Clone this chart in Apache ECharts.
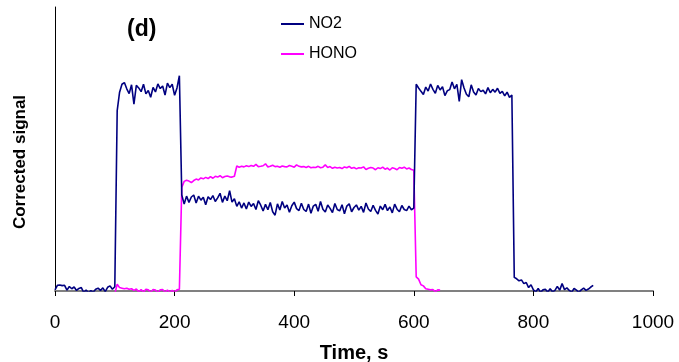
<!DOCTYPE html>
<html>
<head>
<meta charset="utf-8">
<script src="https://cdn.jsdelivr.net/npm/echarts@6/dist/echarts.min.js"></script>
<style>
html,body{margin:0;padding:0;background:#fff;}
#chart{width:679px;height:362px;}
</style>
</head>
<body>
<div id="chart"></div>
<script>
// Time stamps, s
var times = [
  0,4,8,12,16,20,24,28,32,36,
  40,44,48,52,56,60,64,68,72,76,
  80,84,88,92,96,100,104,108,112,116,
  120,124,128,132,136,140,144,148,152,156,
  160,164,168,172,176,180,184,188,192,196,
  200,204,208,212,216,220,224,228,232,236,
  240,244,248,252,256,260,264,268,272,276,
  280,284,288,292,296,300,304,308,312,316,
  320,324,328,332,336,340,344,348,352,356,
  360,364,368,372,376,380,384,388,392,396,
  400,404,408,412,416,420,424,428,432,436,
  440,444,448,452,456,460,464,468,472,476,
  480,484,488,492,496,500,504,508,512,516,
  520,524,528,532,536,540,544,548,552,556,
  560,564,568,572,576,580,584,588,592,596,
  600,604,608,612,616,620,624,628,632,636,
  640,644,648,652,656,660,664,668,672,676,
  680,684,688,692,696,700,704,708,712,716,
  720,724,728,732,736,740,744,748,752,756,
  760,764,768,772,776,780,784,788,792,796,
  800,804,808,812,816,820,824,828,832,836,
  840,844,848,852,856,860,864,868,872,876,
  880,884,888,892,896,900
];
// NO2 corrected signal (arbitrary units, 0-100 scale)
var no2 = [
  0.4,2.0,2.1,1.9,2.0,0.3,1.6,0.8,1.4,0.2,
  0.9,1.2,-0.5,0.3,-0.6,0.1,-0.4,0.6,1.0,0.2,
  1.1,-0.2,1.3,1.8,0.6,1.5,63.5,70,72.8,73.4,
  71.2,69.5,72.6,65.8,72.4,71.5,70.2,72.8,69.4,70.6,
  68.2,71.7,70.1,72.9,71.3,72.2,69.0,73.2,71.6,72.8,
  68.9,71.5,75.8,33.8,30.6,33.4,31.2,33.1,33.8,31.0,
  33.4,32.0,33.0,30.4,33.2,32.2,33.6,31.5,32.8,34.4,
  31.2,33.4,31.8,35.3,31.3,32.5,29.8,31.4,29.2,31.0,
  28.9,31.3,29.8,30.8,28.7,31.8,30.2,28.2,30.5,28.6,
  31.2,27.9,26.7,30.7,28.5,31.5,29.2,30.3,27.7,30.0,
  31.3,29.0,28.3,30.9,28.7,28.0,30.6,27.4,29.9,30.5,
  28.1,31.5,28.8,27.8,30.3,29.1,27.6,30.8,28.7,28.2,
  30.4,27.2,29.9,30.7,27.9,29.4,30.3,28.5,29.8,27.7,
  31.0,28.9,28.0,30.2,28.4,27.1,29.9,28.6,30.5,28.3,
  29.6,27.5,30.6,28.8,27.9,30.1,28.7,28.3,29.9,28.6,
  29.2,72.8,71.5,70.3,69.2,71.8,70.4,72.9,71.0,69.6,
  72.4,70.8,71.9,68.8,70.5,70.9,73.6,71.2,72.8,66.8,
  74.4,71.5,69.3,68.4,72.6,70.1,69.0,71.3,70.2,70.7,
  69.4,71.6,69.8,71.0,70.0,71.4,69.6,70.3,68.7,70.0,
  68.2,69.0,4.8,4.3,3.6,3.9,2.6,3.0,1.2,2.2,
  0.4,-0.3,0.9,-0.5,0.4,0.6,-0.4,0.8,-0.3,0.2,
  1.6,0.3,2.6,0.5,1.1,0.2,-0.4,0.9,0.3,-0.5,
  0.4,1.0,0.2,0.7,1.4,2.0
];
// HONO corrected signal (same scale), recorded up to 644 s
var hono = [
  -1,-1,-1,-1,-1,-1,-1,-1,-1,-1,
  -1,-1,-1,-1,-1,-1,-1,-1,-1,-1,
  -1,-1,-1,-1,-1,-1,2.4,1.2,1.0,0.8,
  1.0,0.6,0.8,0.2,0.7,-0.3,0.5,-0.4,0.6,0.4,
  -0.5,0.5,0.3,-0.6,0.4,0.5,-0.5,0.3,-0.4,0.2,
  -0.5,0.4,0.6,36.5,38.6,39.0,38.7,38.2,38.9,39.4,
  39.1,39.8,39.5,40.0,39.6,40.3,39.7,40.4,40.1,40.6,
  39.9,40.3,40.5,40.2,40.1,40.4,44.0,43.6,43.9,43.7,
  44.1,43.8,44.2,43.9,44.6,43.8,43.9,44.1,44.8,43.7,
  43.9,44.3,43.8,43.9,43.6,44.0,43.8,43.7,44.2,43.9,
  43.6,44.4,43.9,43.7,43.8,43.5,43.9,43.4,43.6,43.5,
  43.9,43.4,43.6,44.4,43.5,43.8,43.2,43.6,43.3,43.5,
  43.1,43.7,43.4,43.9,43.2,43.5,43.0,43.4,43.3,43.7,
  42.8,43.2,43.5,43.3,42.7,43.4,43.1,43.6,42.9,43.3,
  42.6,43.4,43.1,42.7,43.5,43.2,43.6,43.0,43.3,42.8,
  42.5,5.0,4.2,2.2,1.8,0.8,0.6,0.4,0.5,-0.3,
  0.4,0.3
];
var xTicks = [0, 200, 400, 600, 800, 1000];
var seriesNames = ['NO2', 'HONO'];

function pairs(vals) {
  return vals.map(function (v, i) { return [times[i], v]; });
}

var chart = echarts.init(document.getElementById('chart'), null, {renderer: 'canvas'});
var FONT = '"Liberation Sans", Arial, sans-serif';
chart.setOption({
  animation: false,
  backgroundColor: '#ffffff',
  title: {
    text: '(d)',
    left: 122, top: 13,
    textStyle: {fontFamily: FONT, fontWeight: 'bold', fontSize: 23, color: '#000'}
  },
  legend: {
    data: seriesNames,
    orient: 'vertical',
    left: 276, top: 11,
    itemWidth: 23, itemHeight: 2, itemGap: 14,
    icon: 'rect',
    textStyle: {fontFamily: FONT, fontSize: 16, color: '#000'}
  },
  grid: {left: 55, right: 26, top: 7, bottom: 71, containLabel: false, outerBoundsMode: 'none'},
  xAxis: {
    type: 'value',
    min: xTicks[0], max: xTicks[xTicks.length - 1], interval: 200,
    name: 'Time, s',
    nameLocation: 'middle', nameGap: 52,
    nameTextStyle: {fontFamily: FONT, fontWeight: 'bold', fontSize: 20, color: '#000'},
    axisLine: {show: true, lineStyle: {color: '#808080', width: 2}},
    axisTick: {show: true, length: 5, lineStyle: {color: '#000', width: 1}},
    axisLabel: {fontFamily: FONT, fontSize: 19, color: '#000', margin: 22,
      formatter: function (v) { return String(v); }},
    splitLine: {show: false}
  },
  yAxis: {
    type: 'value', min: 0, max: 100,
    name: 'Corrected signal',
    nameLocation: 'middle', nameGap: 26,
    nameTextStyle: {fontFamily: FONT, fontWeight: 'bold', fontSize: 17, color: '#000',
      padding: [0, 26, 0, 0]},
    axisLine: {show: true, onZero: false, lineStyle: {color: '#000', width: 1}},
    axisTick: {show: false},
    axisLabel: {show: false},
    splitLine: {show: false}
  },
  series: [
    {
      name: seriesNames[0], type: 'line', data: pairs(no2),
      showSymbol: false, symbol: 'none', clip: true,
      lineStyle: {color: '#000080', width: 1.6},
      itemStyle: {color: '#000080'}, z: 3
    },
    {
      name: seriesNames[1], type: 'line', data: pairs(hono),
      showSymbol: false, symbol: 'none', clip: true,
      lineStyle: {color: '#ff00ff', width: 1.6},
      itemStyle: {color: '#ff00ff'}, z: 2
    }
  ]
});
</script>
</body>
</html>
